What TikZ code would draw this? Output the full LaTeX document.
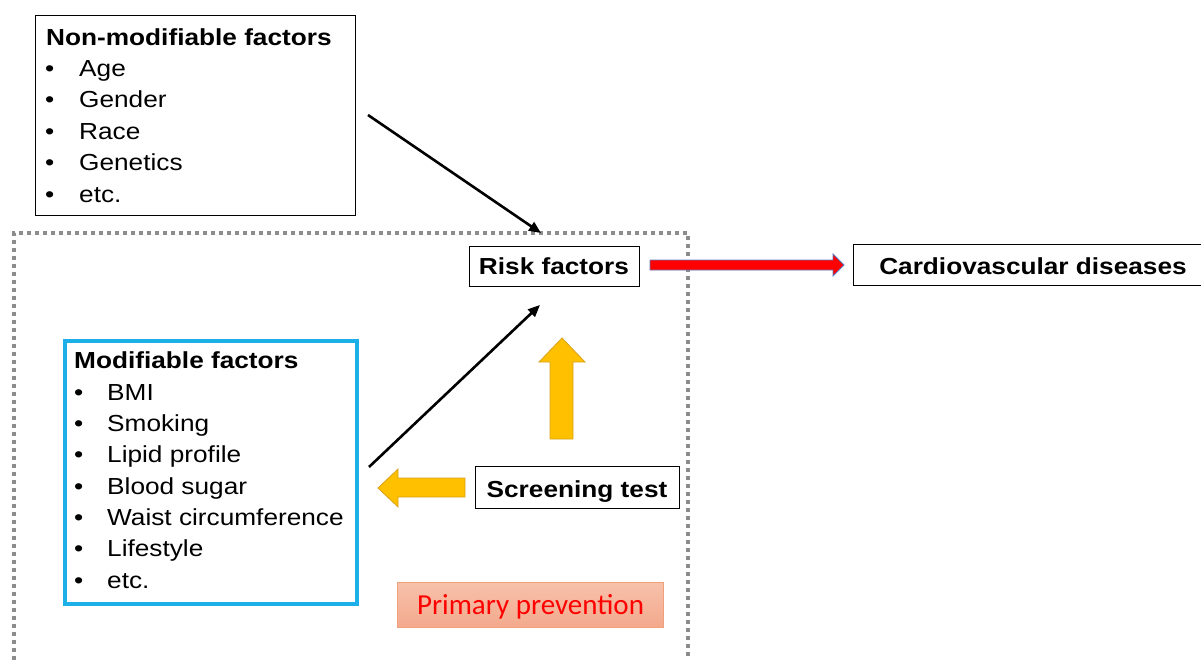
\documentclass[tikz,border=0pt]{standalone}
\usepackage{fontspec}
\setmainfont[FakeStretch=1.13]{Liberation Sans}
\newfontfamily\calib{Carlito}
\usetikzlibrary{arrows.meta}
\definecolor{cyanb}{HTML}{1CAFE8}
\definecolor{yel}{HTML}{FFC000}
\definecolor{yelo}{HTML}{D9A21B}
\definecolor{arrred}{HTML}{FF0000}
\definecolor{arrblue}{HTML}{5B7BC0}
\definecolor{pptop}{HTML}{F7C1AB}
\definecolor{ppbot}{HTML}{F3A98C}
\definecolor{ppline}{HTML}{F0A07A}
\definecolor{dotgray}{HTML}{8C8C8C}
\tikzset{
  box/.style={draw=black, line width=1.4pt, inner sep=0pt, anchor=north west},
  txt/.style={anchor=base west, inner sep=0pt, font=\fontsize{23.2}{31}\selectfont},
  btxt/.style={txt, font=\fontsize{23.2}{31}\selectfont\bfseries},
  ctxt/.style={anchor=base, inner sep=0pt, font=\fontsize{23.2}{31}\selectfont\bfseries},
  conn/.style={draw=black, line width=2.6pt, -{Triangle[length=12pt,width=10pt]}},
  yarrow/.style={fill=yel, draw=yelo, line width=0.8pt},
}
\begin{document}
\begin{tikzpicture}[x=1pt,y=-1pt]
\useasboundingbox (0,0) rectangle (1201,659);
\fill[white] (0,0) rectangle (1201,659);

% dotted region
\draw[dotgray, line width=3.5pt, dash pattern=on 4pt off 4pt] (688,680) -- (688,233) -- (14,233) -- (14,680);

% Non-modifiable box
\node[box, minimum width=320pt, minimum height=200pt] (nonmod) at (35,15) {};
\node[btxt] (nmt) at (46,45) {Non-modifiable factors};
\foreach \y/\t [count=\i] in {76/Age,107/Gender,139/Race,170/Genetics,202/etc.}{
  \node[txt] (nmb\i) at (45,\y) {•};
  \node[txt] (nml\i) at (79,\y) {\t};
}

% Modifiable box
\node[box, draw=cyanb, line width=3.5pt, minimum width=292pt, minimum height=263pt] (mod) at (63,339) {};
\node[btxt] (mt) at (74,368) {Modifiable factors};
\foreach \y/\t [count=\i] in {400/BMI,431/Smoking,462/Lipid profile,494/Blood sugar,525/Waist circumference,556/Lifestyle,588/etc.}{
  \node[txt] (mb\i) at (74,\y) {•};
  \node[txt] (ml\i) at (107,\y) {\t};
}

% Risk factors
\node[box, minimum width=170pt, minimum height=40pt] (risk) at (469,246) {};
\node[ctxt] (riskt) at (554,274) {Risk factors};

% Cardiovascular diseases
\node[box, minimum width=360pt, minimum height=41pt] (cvd) at (853,244) {};
\node[ctxt] (cvdt) at (1033,274) {Cardiovascular diseases};

% Screening test
\node[box, minimum width=204pt, minimum height=42pt] (screen) at (475,466) {};
\node[ctxt] (screent) at (577,497) {Screening test};

% Primary prevention
\node[anchor=north west, inner sep=0pt, minimum width=266pt, minimum height=45pt,
      top color=pptop, bottom color=ppbot, draw=ppline, line width=1pt] (pp) at (397,582) {};
\node[anchor=base, inner sep=0pt, font=\calib\fontsize{29}{32}\selectfont, text=arrred] (ppt) at (pp.center |- 0,614) {Primary prevention};

% black connectors
\coordinate (a1s) at (368,115);
\coordinate (a1e) at (541,233);
\draw[conn] (a1s) -- (a1e);
\coordinate (a2s) at (369,467);
\coordinate (a2e) at (540,305);
\draw[conn] (a2s) -- (a2e);

% red arrow
\filldraw[fill=arrred, draw=arrblue, line width=0.9pt]
  (650,260) -- (833,260) -- (833,254) -- (844,265) -- (833,276) -- (833,270) -- (650,270) -- cycle;

% yellow up arrow
\filldraw[yarrow] (550,439) -- (550,362) -- (539,362) -- (562,338) -- (585,362) -- (573,362) -- (573,439) -- cycle;
% yellow left arrow
\filldraw[yarrow] (465,478) -- (398,478) -- (398,469) -- (378,488) -- (398,507) -- (398,497) -- (465,497) -- cycle;
\end{tikzpicture}
\end{document}
